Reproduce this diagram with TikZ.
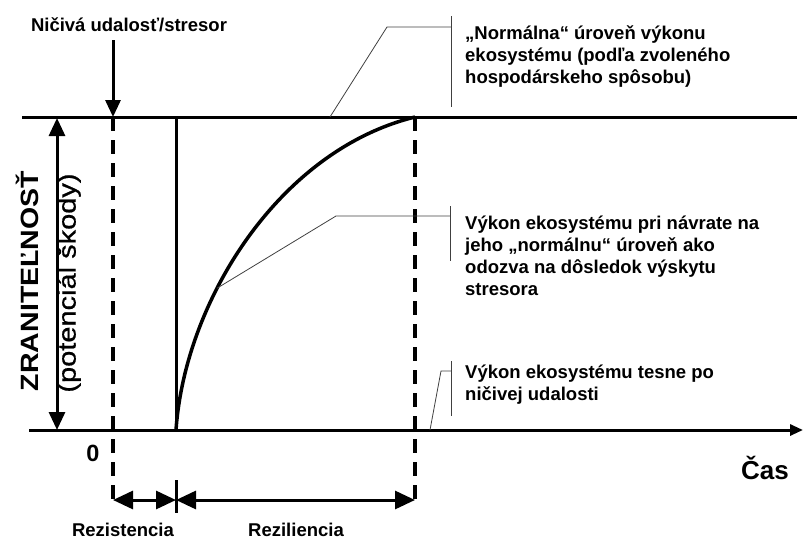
\documentclass[tikz,border=0pt]{standalone}
\usepackage{graphicx}
\usepackage{fontspec}
\setmainfont{Liberation Sans}
\newfontfamily\medfont[FakeBold=0.6]{Liberation Sans}
\usetikzlibrary{arrows.meta, positioning, calc}

\begin{document}
\begin{tikzpicture}[x=1pt, y=-1pt,
  thickline/.style={line width=3pt},
  dashline/.style={line width=3.5pt, dash pattern=on 14pt off 9pt},
  leader/.style={line width=0.8pt, black!75},
  txt/.style={font=\bfseries\fontsize{18.5}{22}\selectfont, inner sep=0pt},
  note/.style={txt, align=left, anchor=base west},
  bigtip/.style={-{Triangle[width=15pt,length=17pt]}},
  bothtips/.style={{Triangle[width=16pt,length=18pt]}-{Triangle[width=16pt,length=18pt]}},
  spantips/.style={{Triangle[width=18pt,length=20pt]}-{Triangle[width=18pt,length=20pt]}},
]
  \useasboundingbox (0,0) rectangle (804,539);

  % main points
  \coordinate (top0) at (22,117);
  \coordinate (top1) at (797,117);
  \coordinate (ax0) at (29,430);
  \coordinate (ax1) at (803,430);
  \coordinate (hit) at (113,117);
  \coordinate (drop) at (176,430);
  \coordinate (back) at (415,117);

  % levels and time axis
  \draw[thickline] (top0) -- (top1);
  \draw[thickline, -{Triangle[width=11pt,length=13pt]}] (ax0) -- (ax1);
  \node[font=\bfseries\fontsize{23.5}{28}\selectfont] (zero) at (93,453) {0};
  \node[font=\bfseries\fontsize{26}{30}\selectfont] (time) at (765,468) {Čas};

  % stressor
  \node[txt] (event) at (129,25) {Ničivá udalosť/stresor};
  \draw[thickline, bigtip] ($(hit |- event.south)+(0,8)$) -- (hit);

  % dashed limits
  \draw[dashline] (hit) -- (hit |- 0,508);
  \draw[dashline] (back) -- (back |- 0,508);

  % drop and recovery
  \draw[thickline] (drop) -- (drop |- top0);
  \draw[line width=3.5pt] (drop) .. controls (185,300) and (280,150) .. (back)
    coordinate[pos=0.36] (mid);

  % vulnerability
  \draw[thickline, bothtips] (57,118) -- (57,430);
  \node[rotate=90, inner sep=0pt, font=\bfseries\fontsize{25}{30}\selectfont] (vuln) at (27,281)
    {\scalebox{1.14}[1]{ZRANITEĽNOSŤ}};
  \node[rotate=90, inner sep=0pt, font=\medfont\fontsize{25}{30}\selectfont] (damage) at (69,283)
    {\scalebox{1.16}[1]{(potenciál škody)}};

  % resistance and resilience
  \coordinate (r0) at (113,500);
  \coordinate (r1) at (176,500);
  \coordinate (r2) at (415,500);
  \draw[thickline] (176,480) -- (176,513);
  \draw[thickline, spantips] (r0) -- (r1);
  \draw[thickline, spantips] (r1) -- (r2);
  \node[txt, anchor=base] (resist) at (123,536) {Rezistencia};
  \node[txt, anchor=base] (resil) at (296,536) {Reziliencia};

  % notes
  \node[note] (note1) at (465,83) {„Normálna“ úroveň výkonu\\ekosystému (podľa zvoleného\\hospodárskeho spôsobu)};
  \node[note] (note2) at (465,295.6) {Výkon ekosystému pri návrate na\\jeho „normálnu“ úroveň ako\\odozva na dôsledok výskytu\\stresora};
  \node[note] (note3) at (465,400.6) {Výkon ekosystému tesne po\\ničivej udalosti};

  \coordinate (n1) at (330,117);
  \coordinate (n3) at (430,430);
  \draw[leader] (451,16) -- (451,107);
  \draw[leader] (n1) -- (387,27) -- (451,27);
  \draw[leader] (450,206) -- (450,261);
  \draw[leader] (mid) -- (336,216) -- (450,216);
  \draw[leader] (451,361) -- (451,416);
  \draw[leader] (n3) -- (441,371) -- (451,371);
\end{tikzpicture}
\end{document}
